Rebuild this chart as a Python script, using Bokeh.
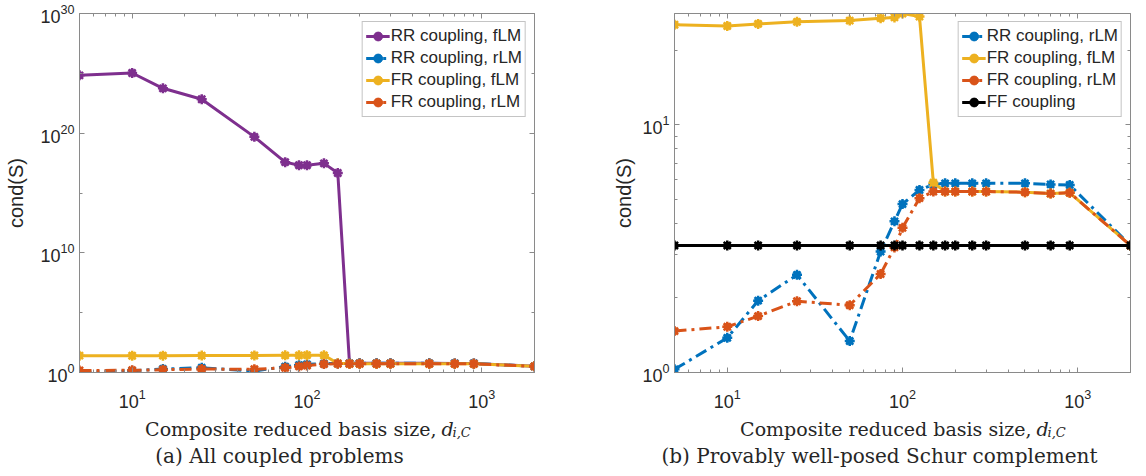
from bokeh.plotting import figure
from bokeh.models import (FixedTicker, LogAxis, Legend, LegendItem, Range1d,
                          CustomJSTickFormatter)
from bokeh.core.properties import value
from bokeh.layouts import row, column
from bokeh.embed import file_html
from bokeh.resources import INLINE

# ---------------- data ----------------
basis_size = [5, 10, 15, 25, 50, 75, 90, 100, 125, 150, 175, 200, 250, 300, 500, 700, 900, 2000]

rr_flm = [6.8e24, 1.07e25, 5.6e23, 6.8e22, 4.9e19, 3.8e17, 2.1e17, 2.1e17, 3.0e17, 4.7e16,
          5.81, 5.81, 5.81, 5.81, 5.81, 5.75, 5.72, 3.26]
rr_rlm = [1.03, 1.38, 1.95, 2.48, 1.34, 3.08, 4.08, 4.79, 5.46, 5.75,
          5.81, 5.81, 5.81, 5.81, 5.81, 5.75, 5.72, 3.26]
fr_flm = [25.4, 25.1, 25.6, 26.1, 26.4, 27.0, 27.2, 28.2, 27.4, 5.84,
          5.38, 5.38, 5.38, 5.38, 5.35, 5.28, 5.32, 3.26]
fr_rlm = [1.47, 1.53, 1.69, 1.94, 1.87, 2.50, 3.20, 3.84, 5.06, 5.38,
          5.38, 5.38, 5.38, 5.38, 5.35, 5.28, 5.32, 3.26]
ff = [3.26, 3.26, 3.26, 3.26, 3.26, 3.26, 3.26, 3.26, 3.26, 3.26,
      3.26, 3.26, 3.26, 3.26, 3.26, 3.26, 3.26, 3.26]

x_major = [10, 100, 1000]
x_minor = [6, 7, 8, 9, 20, 30, 40, 50, 60, 70, 80, 90, 200, 300, 400, 500, 600, 700, 800, 900]
ya_major = [1, 1e10, 1e20, 1e30]
ya_minor = [1e5, 1e15, 1e25]
yb_major = [1, 10]
yb_minor = [2, 3, 4, 5, 6, 7, 8, 9, 20]

x_title = "Composite reduced basis size,"
x_title_var = "d"
x_title_sub = "i,C"
caption_a = "(a) All coupled problems"
caption_b = "(b) Provably well-posed Schur complement"
y_title = "cond(S)"

PURPLE = "#7E2F8E"
BLUE = "#0072BD"
YELLOW = "#EDB120"
ORANGE = "#D95319"
BLACK = "#000000"

AX = "#8a8a8a"
TXT = "#262626"
SANS = "Liberation Sans"
SERIF = "DejaVu Serif"
DASHDOT = "12 5 3 5"
PANEL_H = 414


def style_axis(ax):
    ax.axis_line_color = AX
    ax.major_tick_line_color = AX
    ax.minor_tick_line_color = AX
    ax.major_tick_in = 5
    ax.major_tick_out = 0
    ax.minor_tick_in = 3
    ax.minor_tick_out = 0
    ax.major_label_text_font = SANS
    ax.major_label_text_color = TXT
    ax.major_label_text_font_size = "18px"


def make_fig(width, left, right, top, yr, ymaj, ymin, ylab_standoff):
    p = figure(width=width, height=PANEL_H, x_axis_type="log", y_axis_type="log",
               x_range=Range1d(5, 2000), y_range=Range1d(*yr),
               output_backend="svg", toolbar_location=None,
               min_border_left=left, min_border_right=right,
               min_border_top=top, min_border_bottom=PANEL_H - 372)
    p.grid.visible = False
    p.outline_line_color = AX
    p.background_fill_color = "white"
    p.border_fill_color = "white"
    bottom_ax = p.below[0]
    left_ax = p.left[0]
    bottom_ax.ticker = FixedTicker(ticks=x_major, minor_ticks=x_minor)
    left_ax.ticker = FixedTicker(ticks=ymaj, minor_ticks=ymin)
    blank = CustomJSTickFormatter(code="return ''")
    top_ax = LogAxis(ticker=FixedTicker(ticks=x_major, minor_ticks=x_minor),
                     formatter=blank, major_label_standoff=0)
    right_ax = LogAxis(ticker=FixedTicker(ticks=ymaj, minor_ticks=ymin),
                       formatter=blank, major_label_standoff=0)
    p.add_layout(top_ax, "above")
    p.add_layout(right_ax, "right")
    for ax in (bottom_ax, left_ax, top_ax, right_ax):
        style_axis(ax)
    top_ax.major_label_text_font_size = "1px"
    right_ax.major_label_text_font_size = "1px"
    bottom_ax.major_label_standoff = 16
    left_ax.major_label_standoff = 5
    left_ax.axis_label = y_title
    left_ax.axis_label_text_font = SANS
    left_ax.axis_label_text_font_size = "20px"
    left_ax.axis_label_text_font_style = "normal"
    left_ax.axis_label_text_color = TXT
    left_ax.axis_label_standoff = ylab_standoff
    return p


def series(p, ys, color, dash):
    l = p.line(basis_size, ys, line_color=color, line_width=3, line_dash=dash)
    c = p.scatter(basis_size, ys, marker="circle", size=7, fill_color=color, line_color=color)
    a = p.scatter(basis_size, ys, marker="asterisk", size=10, line_color=color, line_width=2.5)
    return [l, c, a]


def add_legend(p, items):
    leg = Legend(items=[LegendItem(label=lab, renderers=r) for lab, r in items],
                 location="top_right", margin=8, padding=3, spacing=0,
                 label_text_font=SANS, label_text_font_size="17px", label_text_color=TXT,
                 label_height=22, glyph_height=22, glyph_width=24, label_standoff=1,
                 border_line_color=AX, border_line_width=1, background_fill_alpha=1)
    p.add_layout(leg)


# ---------------- panel (a) ----------------
pa = make_fig(573, 79, 39, 13, (1, 1e30), ya_major, ya_minor, 10)
ra = series(pa, rr_flm, PURPLE, "solid")
rb = series(pa, rr_rlm, BLUE, DASHDOT)
rc = series(pa, fr_flm, YELLOW, "solid")
rd = series(pa, fr_rlm, ORANGE, DASHDOT)
add_legend(pa, [("RR coupling, fLM", ra), ("RR coupling, rLM", rb),
                ("FR coupling, fLM", rc), ("FR coupling, rLM", rd)])

# ---------------- panel (b) ----------------
pb = make_fig(573, 101, 16, 11, (1, 28.2), yb_major, yb_minor, 4)
sb = series(pb, rr_rlm, BLUE, DASHDOT)
sc = series(pb, fr_flm, YELLOW, "solid")
sd = series(pb, fr_rlm, ORANGE, DASHDOT)
se = series(pb, ff, BLACK, "solid")
add_legend(pb, [("RR coupling, rLM", sb), ("FR coupling, fLM", sc),
                ("FR coupling, rLM", sd), ("FF coupling", se)])

# ---------------- captions strip (axis titles + sub-captions) ----------------
strip_h = 476 - PANEL_H
cap = figure(width=1146, height=strip_h, x_range=Range1d(0, 1146), y_range=Range1d(strip_h, 0),
             output_backend="svg", toolbar_location=None, min_border=0, title=None,
             x_axis_location=None, y_axis_location=None)
cap.grid.visible = False
cap.outline_line_color = None
cap.border_fill_color = "white"

title_y = 428 - PANEL_H
caption_y = 455 - PANEL_H
for off in (0, 595):
    cap.text(x=[436 + off], y=[title_y], text=[x_title], text_font=value(SERIF),
             text_font_size="19px", text_color=TXT, text_align="right",
             text_baseline="alphabetic")
    cap.text(x=[441 + off], y=[title_y], text=[x_title_var], text_font=value(SERIF),
             text_font_size="19px", text_font_style="italic", text_color=TXT,
             text_align="left", text_baseline="alphabetic")
    cap.text(x=[452 + off], y=[title_y + 4], text=[x_title_sub], text_font=value(SERIF),
             text_font_size="13px", text_font_style="italic", text_color=TXT,
             text_align="left", text_baseline="alphabetic")
cap.text(x=[279], y=[caption_y], text=[caption_a], text_font=value(SERIF),
         text_font_size="20px", text_color=TXT, text_align="center", text_baseline="alphabetic")
cap.text(x=[879], y=[caption_y], text=[caption_b], text_font=value(SERIF),
         text_font_size="20px", text_color=TXT, text_align="center", text_baseline="alphabetic")

layout = column(row(pa, pb), cap)
open("out.html", "w").write(file_html(layout, INLINE))
